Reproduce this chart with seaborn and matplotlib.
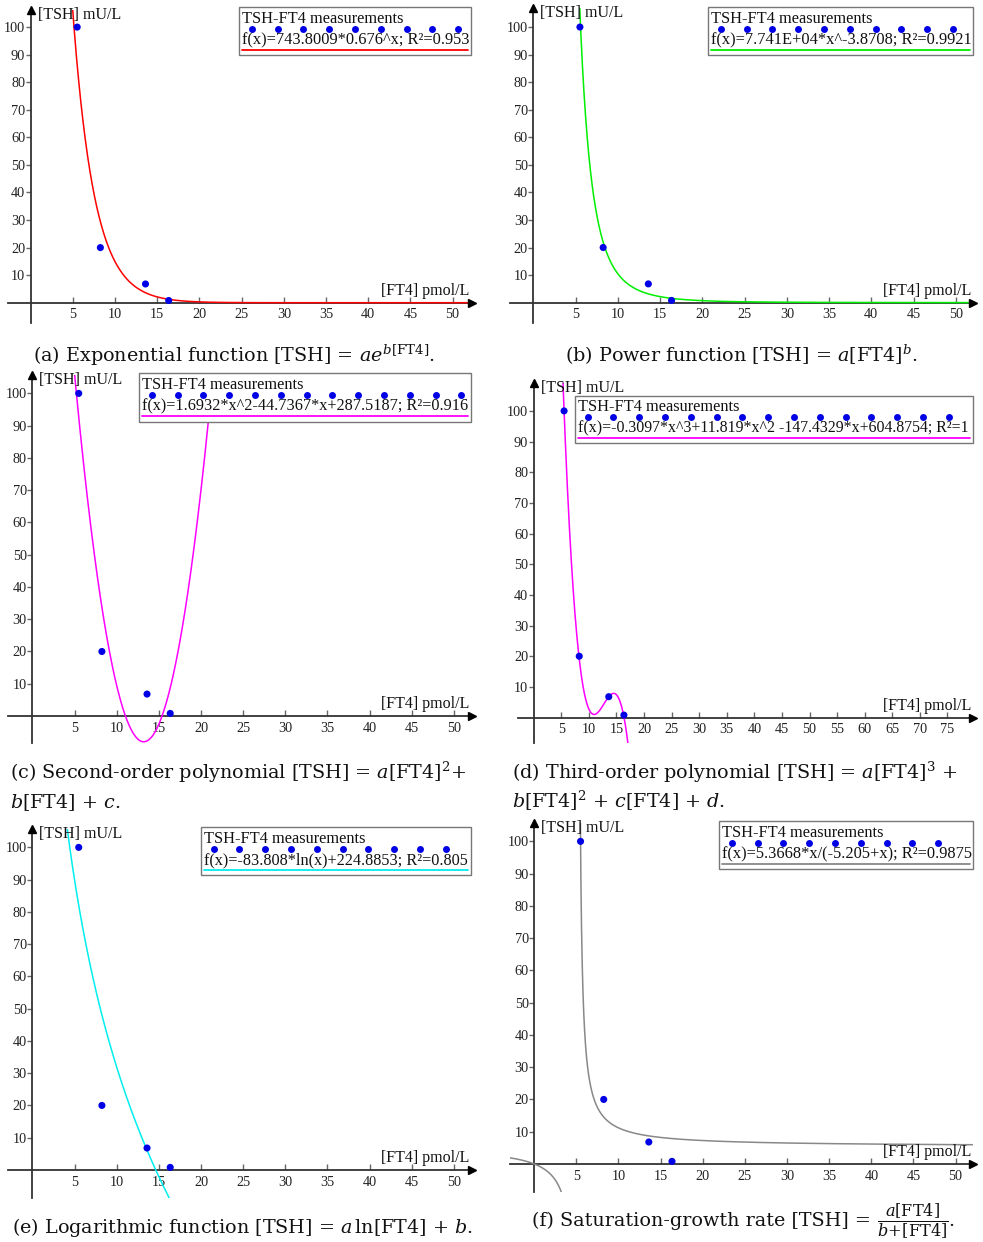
import numpy as np
import pandas as pd
import matplotlib
matplotlib.use("Agg")
import matplotlib.pyplot as plt
import seaborn as sns
from matplotlib.patches import Rectangle
from matplotlib.lines import Line2D

# measured TSH against FT4
ft4 = [5.5, 8.25, 13.6, 16.35]
tsh = [100, 20, 6.8, 0.8]

# fitted model coefficients
exp_coef = [743.8009, 0.676]
pow_coef = [7.741e4, -3.8708]
quad_coef = [1.6932, -44.7367, 287.5187]
cubic_coef = [-0.3097, 11.819, -147.4329, 604.8754]
log_coef = [-83.808, 224.8853]
sat_coef = [5.3668, -5.205]

legend_texts = [
    "f(x)=743.8009*0.676^x; R\u00b2=0.953",
    "f(x)=7.741E+04*x^-3.8708; R\u00b2=0.9921",
    "f(x)=1.6932*x^2-44.7367*x+287.5187; R\u00b2=0.916",
    "f(x)=-0.3097*x^3+11.819*x^2 -147.4329*x+604.8754; R\u00b2=1",
    "f(x)=-83.808*ln(x)+224.8853; R\u00b2=0.805",
    "f(x)=5.3668*x/(-5.205+x); R\u00b2=0.9875",
]
# each caption line is a list of (text, size factor) pieces set side by side
captions = [
    [[(r"(a) Exponential function [TSH] = $ae^{b[\mathrm{FT4}]}$.", 1.0)]],
    [[(r"(b) Power function [TSH] = $a$[FT4]$^{b}$.", 1.0)]],
    [[(r"(c) Second-order polynomial [TSH] = $a$[FT4]$^{2}$+", 1.0)],
     [(r"$b$[FT4] + $c$.", 1.0)]],
    [[(r"(d) Third-order polynomial [TSH] = $a$[FT4]$^{3}$ +", 1.0)],
     [(r"$b$[FT4]$^{2}$ + $c$[FT4] + $d$.", 1.0)]],
    [[(r"(e) Logarithmic function [TSH] = $a\,$ln[FT4] + $b$.", 1.0)]],
    [[(r"(f) Saturation-growth rate [TSH] = ", 1.0),
      (r"$\dfrac{a[\mathrm{FT4}]}{b\!+\![\mathrm{FT4}]}$", 0.84),
      (r".", 1.0)]],
]

sns.set_theme(style="white")
plt.rcParams["font.family"] = ["Liberation Serif", "DejaVu Serif"]
plt.rcParams["mathtext.fontset"] = "dejavuserif"

W, H = 983, 1242
fig = plt.figure(figsize=(W / 100, H / 100), dpi=100)
fig.patch.set_facecolor("white")
renderer = fig.canvas.get_renderer()


def px_axes(x0, y0, x1, y1):
    return fig.add_axes([x0 / W, 1 - y1 / H, (x1 - x0) / W, (y1 - y0) / H])


def fig_xy(px, py):
    return px / W, 1 - py / H


def f_exp(x):
    return exp_coef[0] * exp_coef[1] ** x


def f_pow(x):
    return pow_coef[0] * x ** pow_coef[1]


def f_quad(x):
    return np.polyval(quad_coef, x)


def f_cubic(x):
    return np.polyval(cubic_coef, x)


def f_log(x):
    return log_coef[0] * np.log(x) + log_coef[1]


def f_sat(x):
    return sat_coef[0] * x / (sat_coef[1] + x)


panels = [
    dict(func=f_exp, color="#ff0000", rect=(8, 10, 471.7, 323.3), xlim=(-2.7, 52.27),
         ylim=(-7.47, 106.2), xmax_tick=50, box=(239.3, 7.3, 471.3, 55),
         rows=(19.3, 29, 40.7, 50), cap_xy=(33, 362), cap_dy=29, domain=(-2.7, 52.27)),
    dict(func=f_pow, color="#00ee00", rect=(510, 8.3, 973.3, 323.3), xlim=(-2.78, 52.08),
         ylim=(-7.5, 106.8), xmax_tick=50, box=(708.3, 7.3, 973.3, 55),
         rows=(19.3, 29, 40.7, 50), cap_xy=(565, 362), cap_dy=29, domain=(0.5, 52.08)),
    dict(func=f_quad, color="#ff00ff", rect=(8.3, 375, 471.7, 743.3), xlim=(-2.85, 52.1),
         ylim=(-8.46, 105.7), xmax_tick=50, box=(139.3, 373.3, 471.3, 421.7),
         rows=(385, 394.7, 406, 416), cap_xy=(10, 779), cap_dy=29, domain=(-2.85, 52.1)),
    dict(func=f_cubic, color="#ff00ff", rect=(518.3, 382.7, 973.3, 743.3), xlim=(-2.8, 79.7),
         ylim=(-8.4, 109.2), xmax_tick=75, box=(575, 396, 973.3, 443.3),
         rows=(407.3, 417, 428.7, 438.3), cap_xy=(511.7, 779), cap_dy=29, domain=(-2.8, 79.7)),
    dict(func=f_log, color="#00eeee", rect=(8.3, 829.3, 471.7, 1197.7), xlim=(-2.85, 52.1),
         ylim=(-8.6, 105.6), xmax_tick=50, box=(201, 827.3, 471.3, 875),
         rows=(839.3, 849, 860.7, 870), cap_xy=(11.7, 1233), cap_dy=29, domain=(0.5, 52.1)),
    dict(func=f_sat, color="#888888", rect=(510, 823.3, 973.3, 1191.7), xlim=(-2.87, 52.1),
         ylim=(-8.6, 105.6), xmax_tick=50, box=(719.3, 821, 973.3, 869),
         rows=(833.3, 842.7, 854.3, 864.3), cap_xy=(531.7, 1226), cap_dy=29,
         domain=(-2.87, 52.1)),
]

axis_col = "#333333"
tick_col = "#666666"
point_col = "#0000e6"
cap_size = 13.8
leg_size = 11.8

for i, p in enumerate(panels):
    ax = px_axes(*p["rect"])
    ax.set_facecolor("none")

    # fitted curve, sampled finely; the saturation model has a pole so draw both branches
    lo, hi = p["domain"]
    xs = np.linspace(lo, hi, 6000)
    if p["func"] is f_sat:
        pole = -sat_coef[1]
        branches = [xs[xs < pole - 1e-3], xs[xs > pole + 1e-3]]
    else:
        branches = [xs]
    for bx in branches:
        by = p["func"](bx)
        keep = np.abs(by) < 5e3
        df = pd.DataFrame({"x": bx[keep], "y": by[keep]})
        sns.lineplot(data=df, x="x", y="y", ax=ax, color=p["color"], lw=1.1,
                     estimator=None, sort=False, zorder=3)

    sns.scatterplot(x=ft4, y=tsh, ax=ax, color=point_col, s=26, edgecolor="none", zorder=5)

    ax.set_xlim(*p["xlim"])
    ax.set_ylim(*p["ylim"])
    ax.set_xlabel("")
    ax.set_ylabel("")

    for side in ["top", "right"]:
        ax.spines[side].set_visible(False)
    for side in ["left", "bottom"]:
        ax.spines[side].set_position(("data", 0))
        ax.spines[side].set_color(axis_col)
        ax.spines[side].set_linewidth(1.3)
        ax.spines[side].set_zorder(2)

    ax.set_xticks(np.arange(5, p["xmax_tick"] + 1, 5))
    ax.set_yticks(np.arange(10, 101, 10))
    ax.tick_params(axis="x", direction="in", length=4, width=1, color=tick_col,
                   labelsize=10.3, pad=4, labelcolor="#222222")
    ax.tick_params(axis="y", direction="out", length=3.5, width=1, color=tick_col,
                   labelsize=10.3, pad=0.5, labelcolor="#222222")
    ax.tick_params(bottom=True, left=True)

    # axis arrow heads
    ax.plot(1, 0, ">", color="black", ms=5.5, transform=ax.get_yaxis_transform(),
            clip_on=False, zorder=6)
    ax.plot(0, 1, "^", color="black", ms=5.5, transform=ax.get_xaxis_transform(),
            clip_on=False, zorder=6)

    ax.annotate("[TSH] mU/L", xy=(0, 1), xycoords=ax.get_xaxis_transform(),
                xytext=(5, -3.5), textcoords="offset points", ha="left", va="center",
                fontsize=11.5, color="#111111")
    ax.annotate("[FT4] pmol/L", xy=(1, 0), xycoords=ax.get_yaxis_transform(),
                xytext=(-1.5, 8.5), textcoords="offset points", ha="right", va="center",
                fontsize=11.5, color="#111111")

    # legend box
    bx0, by0, bx1, by1 = p["box"]
    fx0, fy1 = fig_xy(bx0, by1)
    fx1, fy0 = fig_xy(bx1, by0)
    fig.add_artist(Rectangle((fx0, fy1), fx1 - fx0, fy0 - fy1, transform=fig.transFigure,
                             facecolor="white", edgecolor="#777777", lw=1.0, zorder=10))
    ty, dy, fy_, ly = p["rows"]
    fig.text(*fig_xy(bx0 + 3, ty), "TSH-FT4 measurements", ha="left", va="center",
             fontsize=leg_size, color="#111111", zorder=11)
    n_dots = int((bx1 - bx0 - 22) // 25.8) + 1
    dots_x = bx0 + 12.5 + 25.8 * np.arange(n_dots)
    fig.add_artist(Line2D(dots_x / W, np.full(n_dots, 1 - dy / H), transform=fig.transFigure,
                          ls="none", marker="o", ms=5, color=point_col, mec="none", zorder=11))
    ftxt = fig.text(*fig_xy(bx0 + 3, fy_), legend_texts[i], ha="left", va="center",
                    fontsize=leg_size, color="#111111", zorder=12)
    avail = bx1 - bx0 - 5
    width = ftxt.get_window_extent(renderer).width
    if width > avail:
        ftxt.set_fontsize(leg_size * avail / width)
    fig.add_artist(Line2D([(bx0 + 3) / W, (bx1 - 3) / W], [1 - ly / H, 1 - ly / H],
                          transform=fig.transFigure, color=p["color"], lw=1.3, zorder=11))

    # caption
    cx, cy = p["cap_xy"]
    for k, pieces in enumerate(captions[i]):
        x = cx
        for txt, scale in pieces:
            t = fig.text(*fig_xy(x, cy + k * p["cap_dy"]), txt, ha="left", va="baseline",
                         fontsize=cap_size * scale, family="DejaVu Serif", color="#111111")
            x += t.get_window_extent(renderer).width

fig.savefig("out.png", dpi=100, facecolor="white")
